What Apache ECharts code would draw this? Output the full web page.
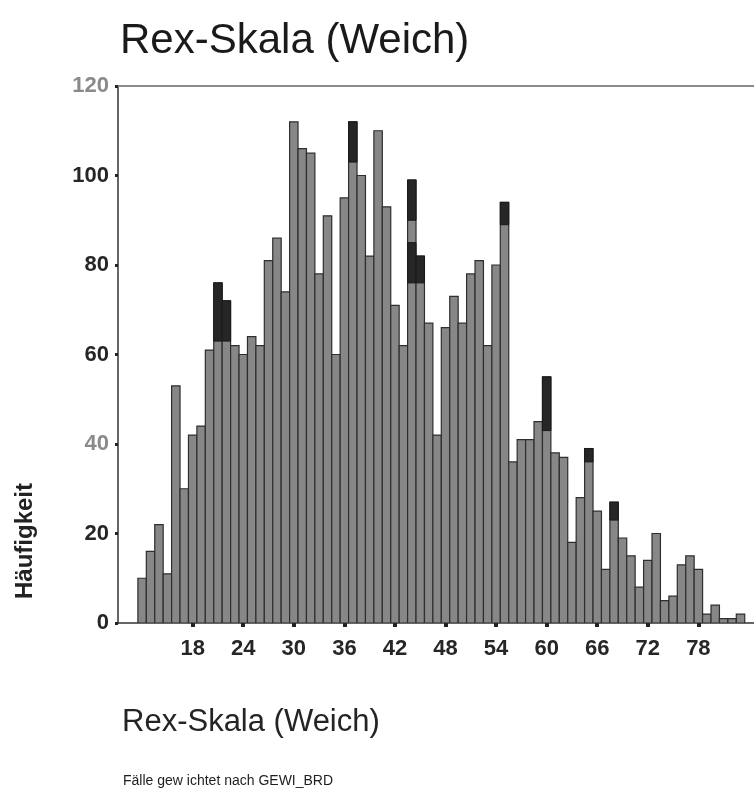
<!DOCTYPE html>
<html>
<head>
<meta charset="utf-8">
<title>Rex-Skala (Weich)</title>
<script src="https://cdn.jsdelivr.net/npm/echarts@6/dist/echarts.min.js"></script>
<style>
  html, body { margin: 0; padding: 0; background: #ffffff; }
  #chart { width: 754px; height: 797px; }
</style>
</head>
<body>
<div id="chart"></div>
<script>
// Rex-Skala score values (one bar per score)
const scores = [12, 13, 14, 15, 16, 17, 18, 19, 20, 21, 22, 23, 24, 25, 26, 27, 28, 29,
  30, 31, 32, 33, 34, 35, 36, 37, 38, 39, 40, 41, 42, 43, 44, 45, 46, 47, 48, 49,
  50, 51, 52, 53, 54, 55, 56, 57, 58, 59, 60, 61, 62, 63, 64, 65, 66, 67, 68, 69,
  70, 71, 72, 73, 74, 75, 76, 77, 78, 79, 80, 81, 82, 83];

// Weighted frequency per score
const counts = [10, 16, 22, 11, 53, 30, 42, 44, 61, 76, 72, 62, 60, 64, 62, 81, 86, 74,
  112, 106, 105, 78, 91, 60, 95, 112, 100, 82, 110, 93, 71, 62, 99, 82, 67, 42, 66, 73,
  67, 78, 81, 62, 80, 94, 36, 41, 41, 45, 55, 38, 37, 18, 28, 39, 25, 12, 27, 19,
  15, 8, 14, 20, 5, 6, 13, 15, 12, 2, 4, 1, 1, 2];

// Dark highlight marks sitting on some bars (score, upper and lower frequency)
const markScores = [21, 22, 37, 44, 44, 45, 55, 60, 65, 68];
const markTop    = [76, 72, 112, 99, 85, 82, 94, 55, 39, 27];
const markBottom = [63, 63, 103, 90, 76, 76, 89, 43, 36, 23];

// Axis tick labels
const xTickLabels = [18, 24, 30, 36, 42, 48, 54, 60, 66, 72, 78];
const yTickLabels = [0, 20, 40, 60, 80, 100, 120];
const yGreyLabels = [40, 120];

const FONT = '"Liberation Sans", Arial, Helvetica, sans-serif';

const chart = echarts.init(document.getElementById('chart'), null, { renderer: 'canvas' });

function barItem(params, api) {
  const x = api.value(0);
  const y = api.value(1);
  const p0 = api.coord([x - 0.5, y]);
  const p1 = api.coord([x + 0.5, 0]);
  return {
    type: 'rect',
    shape: { x: p0[0], y: p0[1], width: p1[0] - p0[0], height: p1[1] - p0[1] },
    style: { fill: '#878787', stroke: '#2e2e2e', lineWidth: 1.2 }
  };
}

function markItem(params, api) {
  const x = api.value(0);
  const p0 = api.coord([x - 0.5, api.value(1)]);
  const p1 = api.coord([x + 0.5, api.value(2)]);
  return {
    type: 'rect',
    shape: { x: p0[0], y: p0[1], width: p1[0] - p0[0], height: p1[1] - p0[1] },
    style: { fill: '#262626', stroke: '#1a1a1a', lineWidth: 1 }
  };
}

const option = {
  backgroundColor: '#ffffff',
  animation: false,
  title: [
    {
      text: 'Rex-Skala (Weich)',
      left: 115, top: 15,
      textStyle: { fontFamily: FONT, fontSize: 42, fontWeight: 'normal', color: '#1a1a1a' }
    },
    {
      text: 'Rex-Skala (Weich)',
      left: 117, top: 702,
      textStyle: { fontFamily: FONT, fontSize: 31, fontWeight: 'normal', color: '#242424' }
    },
    {
      text: 'Fälle gew ichtet nach GEWI_BRD',
      left: 118, top: 769,
      textStyle: { fontFamily: FONT, fontSize: 14, fontWeight: 'normal', color: '#1e1e1e' }
    }
  ],
  graphic: [
    {
      type: 'text',
      left: 13, top: 483,
      rotation: Math.PI / 2,
      style: {
        text: 'Häufigkeit',
        font: 'bold 24px ' + FONT,
        fill: '#222222'
      }
    }
  ],
  grid: { left: 118, right: 0, top: 86, bottom: 174 },
  xAxis: [
    {
      type: 'value',
      min: 9.14, max: 84.6,
      position: 'bottom',
      splitLine: { show: false },
      axisLine: { show: true, onZero: false, lineStyle: { color: '#333333', width: 1.5 } },
      axisTick: {
        show: true, length: 4, customValues: xTickLabels,
        lineStyle: { color: '#222222', width: 4 }
      },
      axisLabel: {
        show: true, customValues: xTickLabels, margin: 15,
        fontFamily: FONT, fontSize: 22, fontWeight: 'bold', color: '#262626'
      }
    },
    {
      type: 'value',
      min: 9.14, max: 84.6,
      position: 'top',
      splitLine: { show: false },
      axisLine: { show: true, onZero: false, lineStyle: { color: '#8c8c8c', width: 2 } },
      axisTick: { show: false },
      axisLabel: { show: false }
    }
  ],
  yAxis: {
    type: 'value',
    min: 0, max: 120, interval: 20,
    splitLine: { show: false },
    axisLine: { show: true, lineStyle: { color: '#333333', width: 1.5 } },
    axisTick: { show: true, length: 3, lineStyle: { color: '#222222', width: 3 } },
    axisLabel: {
      margin: 9,
      fontFamily: FONT, fontSize: 22, fontWeight: 'bold', color: '#262626',
      formatter: function (v) {
        return yGreyLabels.indexOf(v) >= 0 ? '{g|' + v + '}' : '{d|' + v + '}';
      },
      rich: {
        d: { fontFamily: FONT, fontSize: 22, fontWeight: 'bold', color: '#262626' },
        g: { fontFamily: FONT, fontSize: 22, fontWeight: 'bold', color: '#8a8a8a' }
      }
    }
  },
  series: [
    {
      name: 'Häufigkeit',
      type: 'custom',
      xAxisIndex: 0,
      clip: true,
      renderItem: barItem,
      encode: { x: 0, y: 1 },
      data: scores.map((s, i) => [s, counts[i]])
    },
    {
      name: 'Markierung',
      type: 'custom',
      xAxisIndex: 0,
      clip: true,
      renderItem: markItem,
      encode: { x: 0, y: [1, 2] },
      data: markScores.map((s, i) => [s, markTop[i], markBottom[i]])
    }
  ]
};

chart.setOption(option);
</script>
</body>
</html>
